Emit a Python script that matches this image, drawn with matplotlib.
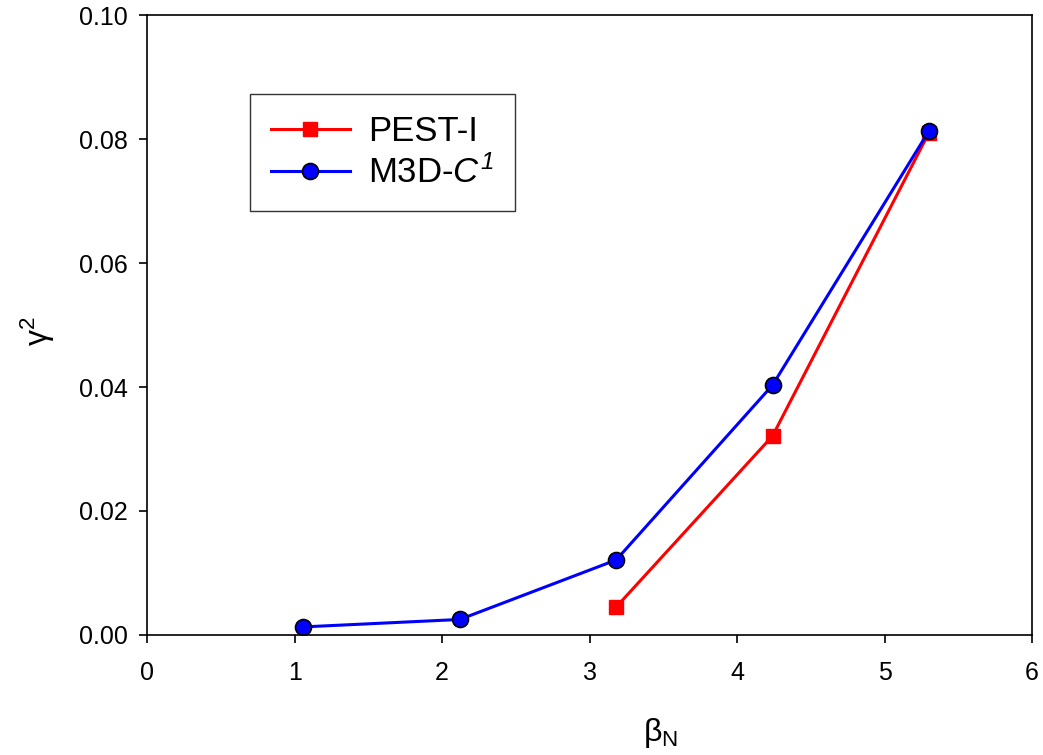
import matplotlib
matplotlib.use('Agg')
import matplotlib.pyplot as plt

plt.rcParams['font.family'] = ['Liberation Sans', 'DejaVu Sans']
plt.rcParams['mathtext.fontset'] = 'custom'
plt.rcParams['mathtext.rm'] = 'Liberation Sans'
plt.rcParams['mathtext.it'] = 'Liberation Sans:italic'
plt.rcParams['mathtext.sf'] = 'Liberation Sans:italic'  # italic digits via \mathsf
plt.rcParams['mathtext.bf'] = 'Liberation Sans:bold'

# data
pest_beta = [3.18, 4.24, 5.30]
pest_gamma2 = [0.0045, 0.0321, 0.0810]
m3d_beta = [1.06, 2.12, 3.18, 4.24, 5.30]
m3d_gamma2 = [0.0013, 0.0025, 0.0121, 0.0403, 0.0813]

x_ticks = [0, 1, 2, 3, 4, 5, 6]
y_ticks = [0.00, 0.02, 0.04, 0.06, 0.08, 0.10]

fig = plt.figure(figsize=(10.43, 7.55), dpi=100)
ax = fig.add_axes([0.141, 0.159, 0.8486, 0.821])

ax.plot(pest_beta, pest_gamma2, color='red', lw=2.2, marker='s', ms=10,
        mfc='red', mec='red', label='PEST-I')
ax.plot(m3d_beta, m3d_gamma2, color='blue', lw=2.2, marker='o', ms=11.5,
        mfc='blue', mec='black', mew=1.2, label=r'M3D-$\mathit{C}^{\mathsf{1}}$')

ax.set_xlim(0, 6)
ax.set_ylim(0, 0.10)
ax.set_xticks(x_ticks)
ax.set_yticks(y_ticks)
ax.set_yticklabels([f'{v:.2f}' for v in y_ticks])
ax.tick_params(direction='out', length=6, width=1.2, labelsize=18)
ax.tick_params(axis='x', pad=13)
ax.tick_params(axis='y', pad=8)
for s in ax.spines.values():
    s.set_linewidth(1.2)

ax.set_xlabel('β$_\\mathrm{N}$', fontsize=23)
ax.set_ylabel('γ$^\\mathrm{2}$', fontsize=23)
ax.xaxis.set_label_coords(0.58, -0.13)
ax.yaxis.set_label_coords(-0.102, 0.49)

leg = ax.legend(loc='upper left', bbox_to_anchor=(0.116, 0.873), fontsize=25,
                frameon=True, fancybox=False, edgecolor='black',
                handlelength=2.3, borderpad=0.6,
                labelspacing=0.22, handletextpad=0.52, borderaxespad=0)
leg.get_frame().set_linewidth(1.0)

fig.savefig('out.png', dpi=100)
